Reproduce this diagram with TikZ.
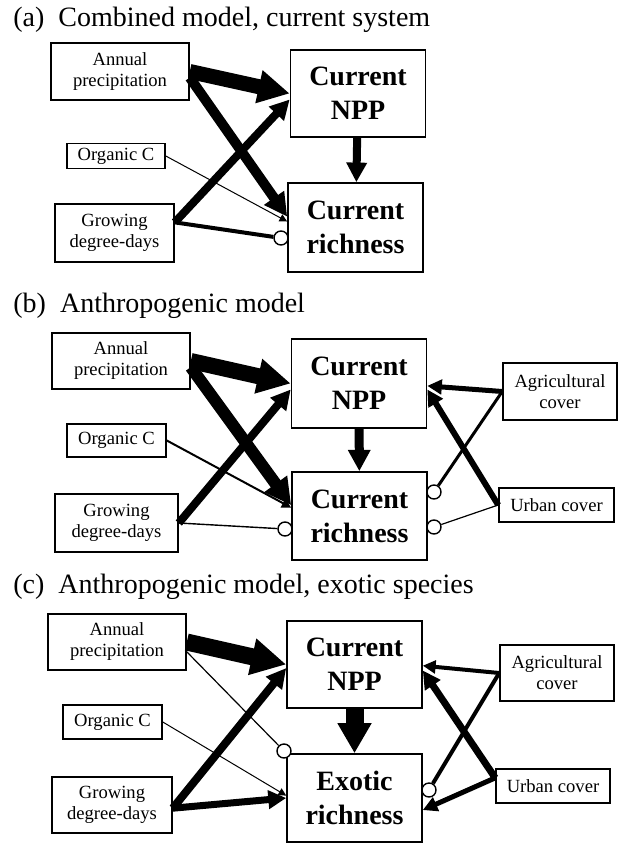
\documentclass[tikz,border=0pt]{standalone}
\usepackage{fontspec}
\setmainfont{Liberation Serif}
\usetikzlibrary{arrows.meta}

\tikzstyle{heading} = [anchor=west, inner sep=0pt, font={\fontsize{14}{17}\selectfont}]
\tikzstyle{driver} = [rectangle, draw=black, line width=0.8pt, inner sep=0pt, align=center, font={\fontsize{9.3}{10.5}\selectfont}]
\tikzstyle{response} = [rectangle, draw=black, line width=0.8pt, inner sep=0pt, align=center, minimum width=67.5pt, minimum height=44pt, font={\fontsize{14}{17}\selectfont\bfseries}]
\tikzstyle{negative} = [circle, draw=black, fill=white, line width=0.7pt, minimum size=7pt, inner sep=0pt]
\tikzstyle{effect} = [-{Triangle[length=3pt 1.7, width=3pt 1.7]}]

\begin{document}
\begin{tikzpicture}[x=0.5pt, y=-0.5pt]
\useasboundingbox (0,0) rectangle (618,844);

% (a) combined model
\node (titleA) [heading] at (13,20) {(a)\ \ Combined model, current system};
\node (precipA) [driver, minimum width=69pt, minimum height=28.5pt] at (120,71.5) {Annual\\precipitation};
\node (organicA) [driver, minimum width=49pt, minimum height=12.5pt] at (116,156) {Organic C};
\node (gddA) [driver, minimum width=59.5pt, minimum height=29pt] at (114.5,233) {Growing\\degree-days};
\node (nppA) [response, minimum height=43.5pt] at (358,93.5) {Current\\NPP};
\node (richA) [response, minimum height=44.5pt] at (355.5,227.5) {Current\\richness};
\node (negA) [negative] at (281,238) {};

\draw [effect, line width=0.5pt] (organicA.east) -- (richA.175);
\draw [effect, line width=7.5pt] (precipA.east) -- (nppA.west);
\draw [effect, line width=5pt] (precipA.-5) -- (richA.171);
\draw [effect, line width=4pt] (gddA.10) -- (nppA.185);
\draw [line width=2pt] (gddA.10) -- (negA);
\draw [effect, line width=4pt] (nppA) -- (richA);

% (b) anthropogenic model
\node (titleB) [heading] at (13,306) {(b)\ \ Anthropogenic model};
\node (precipB) [driver, minimum width=69pt, minimum height=28pt] at (121,361) {Annual\\precipitation};
\node (organicB) [driver, minimum width=49.5pt, minimum height=16.5pt] at (116.5,440.5) {Organic C};
\node (gddB) [driver, minimum width=61.5pt, minimum height=29pt] at (116.5,523) {Growing\\degree-days};
\node (nppB) [response, minimum height=44.5pt] at (359,383.5) {Current\\NPP};
\node (richB) [response] at (359.5,516) {Current\\richness};
\node (agriB) [driver, minimum width=57pt, minimum height=28.5pt] at (560,391.5) {Agricultural\\cover};
\node (urbanB) [driver, minimum width=57.5pt, minimum height=17pt] at (556.5,505) {Urban cover};
\node (negB1) [negative] at (285,529) {};
\node (negB2) [negative] at (434,492) {};
\node (negB3) [negative] at (434,527) {};

\draw [effect, line width=1pt] (organicB.east) -- (richB.173);
\draw [effect, line width=8pt] (precipB.east) -- (nppB.west);
\draw [effect, line width=6pt] (precipB.-5) -- (richB.171);
\draw [effect, line width=4pt] (gddB.east) -- (nppB.185);
\draw [line width=0.7pt] (gddB.east) -- (negB1);
\draw [effect, line width=4.5pt] (nppB) -- (richB);
\draw [effect, line width=2.5pt] (agriB.west) -- (nppB.-2);
\draw [effect, line width=3pt] (urbanB.west) -- (nppB.-5);
\draw [line width=1.5pt] (agriB.west) -- (negB2);
\draw [line width=0.6pt] (urbanB.west) -- (negB3);

% (c) exotic species
\node (titleC) [heading] at (13,587) {(c)\ \ Anthropogenic model, exotic species};
\node (precipC) [driver, minimum width=69pt, minimum height=28pt] at (117,642) {Annual\\precipitation};
\node (organicC) [driver, minimum width=49.5pt, minimum height=17pt] at (112.5,722) {Organic C};
\node (gddC) [driver, minimum width=60pt, minimum height=28pt] at (112,805) {Growing\\degree-days};
\node (nppC) [response, minimum height=43.5pt] at (354.5,664.5) {Current\\NPP};
\node (exoC) [response] at (354.5,798) {Exotic\\richness};
\node (agriC) [driver, minimum width=57pt, minimum height=28pt] at (557,673) {Agricultural\\cover};
\node (urbanC) [driver, minimum width=57pt, minimum height=17pt] at (553,786) {Urban cover};
\node (negC1) [negative] at (284,751) {};
\node (negC2) [negative] at (429,790) {};

\draw [line width=0.6pt] (precipC.-8) -- (negC1);
\draw [effect, line width=0.5pt] (organicC.east) -- (exoC.178);
\draw [effect, line width=8.5pt] (precipC.east) -- (nppC.west);
\draw [effect, line width=4pt] (gddC.-3) -- (nppC.183);
\draw [effect, line width=3.5pt] (gddC.-3) -- (exoC.west);
\draw [line width=9pt, -{Triangle[length=15pt, width=16pt]}] (nppC) -- (exoC);
\draw [effect, line width=2pt] (agriC.west) -- (nppC.-1);
\draw [effect, line width=3.5pt] (urbanC.172) -- (nppC.-5);
\draw [line width=2pt] (agriC.west) -- (negC2);
\draw [effect, line width=2.5pt] (urbanC.172) -- (exoC.-10);

\end{tikzpicture}
\end{document}
